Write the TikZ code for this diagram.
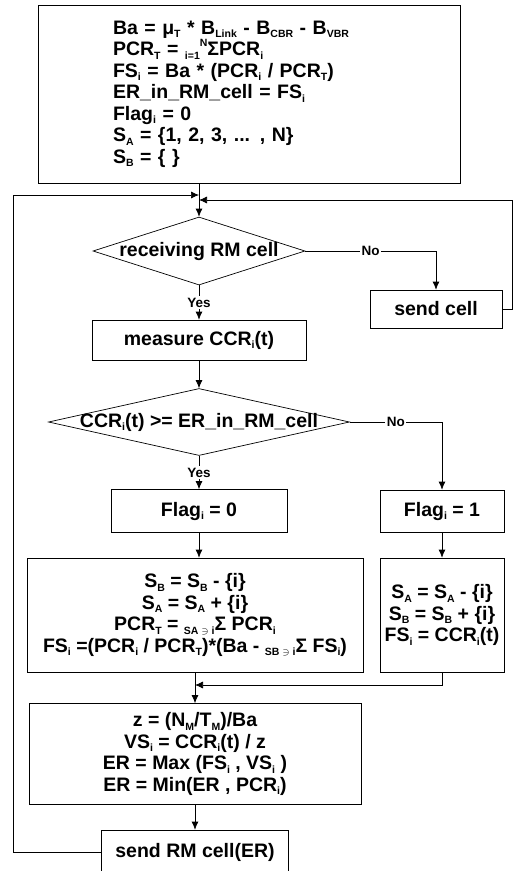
\documentclass[tikz,border=0pt]{standalone}
\usepackage{fontspec}
\setmainfont{Liberation Sans}
\usetikzlibrary{shapes.geometric, arrows.meta}
\newcommand{\lo}[1]{\raisebox{-0.35ex}{\fontsize{10.5}{10.5}\selectfont #1}}
\newcommand{\hi}[1]{\raisebox{0.9ex}{\fontsize{10.5}{10.5}\selectfont #1}}

\begin{document}
\begin{tikzpicture}[x=1pt, y=-1pt,
        every node/.style={font=\fontsize{19.5}{21.5}\selectfont\bfseries},
        box/.style={draw, line width=0.7pt, inner sep=0pt, align=center},
        dia/.style={draw, line width=0.7pt, diamond, inner sep=0pt},
        lbl/.style={fill=white, inner sep=1.5pt, font=\fontsize{13.5}{13.5}\selectfont\bfseries},
        arr/.style={line width=0.7pt, -{Latex[length=8pt, width=7pt]}}]
        \useasboundingbox (0,0) rectangle (514,871);

        \node[box, minimum width=422, minimum height=178, text width=272, align=left] (init) at (249,94)
            {Ba = μ\lo{T} * B\lo{Link} - B\lo{CBR} - B\lo{VBR}\\
             PCR\lo{T} = \lo{i=1}\hi{N}ΣPCR\lo{i}\\
             FS\lo{i} = Ba * (PCR\lo{i} / PCR\lo{T})\\
             ER\_in\_RM\_cell = FS\lo{i}\\
             Flag\lo{i} = 0\\
             S\lo{A} = \{1, 2, 3, ... , N\}\\
             S\lo{B} = \{ \}};

        \node[dia, minimum width=212, minimum height=68] (rcv) at (199,251) {};
        \node (rcvtxt) at (rcv.center) {receiving RM cell};
        \node[box, minimum width=132, minimum height=38] (send) at (436,309) {send cell};
        \node[box, minimum width=214, minimum height=40] (meas) at (199,340) {measure CCR\lo{i}(t)};

        \node[dia, minimum width=301, minimum height=67] (cmp) at (199,422) {};
        \node (cmptxt) at (cmp.center) {CCR\lo{i}(t) >= ER\_in\_RM\_cell};
        \node[box, minimum width=176, minimum height=43] (flag0) at (199,511) {Flag\lo{i} = 0};
        \node[box, minimum width=124, minimum height=42] (flag1) at (442,511) {Flag\lo{i} = 1};

        \node[box, minimum width=336, minimum height=114] (upd0) at (195,615)
            {S\lo{B} = S\lo{B} - \{i\}\\
             S\lo{A} = S\lo{A} + \{i\}\\
             PCR\lo{T} = \lo{SA $\ni$ i}Σ PCR\lo{i}\\
             FS\lo{i} =(PCR\lo{i} / PCR\lo{T})*(Ba - \lo{SB $\ni$ i}Σ FS\lo{i})};
        \node[box, minimum width=124, minimum height=114] (upd1) at (442,615)
            {S\lo{A} = S\lo{A} - \{i\}\\
             S\lo{B} = S\lo{B} + \{i\}\\
             FS\lo{i} = CCR\lo{i}(t)};

        \node[box, minimum width=332, minimum height=101] (rate) at (195,754)
            {z = (N\lo{M}/T\lo{M})/Ba\\
             VS\lo{i} = CCR\lo{i}(t) / z\\
             ER = Max (FS\lo{i} , VS\lo{i} )\\
             ER = Min(ER , PCR\lo{i})};
        \node[box, minimum width=187, minimum height=44] (sendrm) at (195,852) {send RM cell(ER)};

        \coordinate (m1) at (199,195);
        \coordinate (m2) at (199,200);
        \coordinate (lp) at (13,195);
        \coordinate (m3) at (195,685);

        \draw[arr] (init.south -| rcv.north) -- (rcv.north);
        \draw[arr] (rcv.east) -- node[lbl] {No} (rcv.east -| send.north) -- (send.north);
        \draw[arr] (send.east) -- ++(10,0) |- (m2);
        \draw[arr] (rcv.south) -- node[lbl] {Yes} (meas.north);
        \draw[arr] (meas.south) -- (cmp.north);
        \draw[arr] (cmp.east) -- node[lbl] {No} (cmp.east -| flag1.north) -- (flag1.north);
        \draw[arr] (cmp.south) -- node[lbl] {Yes} (flag0.north);
        \draw[arr] (flag0.south) -- (flag0.south |- upd0.north);
        \draw[arr] (flag1.south) -- (upd1.north);
        \draw[arr] (upd0.south) -- (rate.north);
        \draw[arr] (upd1.south) |- (m3);
        \draw[arr] (rate.south) -- (sendrm.north);
        \draw[arr] (sendrm.west) -| (lp) -- (m1);
    \end{tikzpicture}
\end{document}
